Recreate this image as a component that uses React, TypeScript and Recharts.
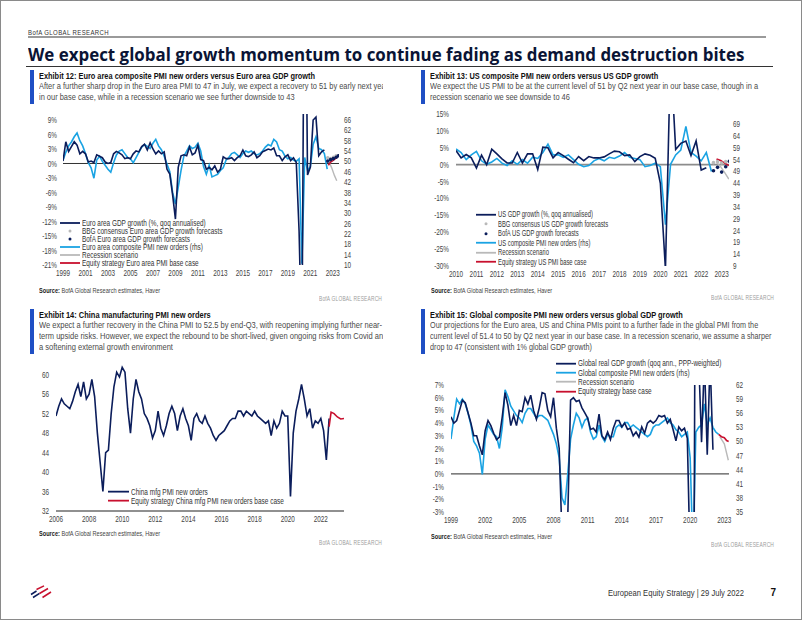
import React, { useLayoutEffect, useRef, useState } from "react";
import { ComposedChart, Line, XAxis, YAxis, ReferenceLine, Legend } from "recharts";

const NAVY = "#0b1d5b";
const SKY = "#1aa3e3";
const RED = "#c8102e";
const GREY = "#b9b9b9";
const INK = "#444444";
const FONT = "'Liberation Sans', Arial, sans-serif";
const TITLE_FONT = "'Open Sans', 'Liberation Sans', sans-serif";

// ---------- Exhibit 12: Euro area (quarterly, from 1999 Q1)
const euroGdp = [
  0.5, 4.5, 2.5, 3.5, 4.5, 3.8, 2.0, 2.5, 2.0, 0.3, 0.5, 0.2, 1.8, 1.5, 1.2, 0.3,
  0.0, 0.2, 2.0, 2.5, 2.2, 1.8, 1.0, 1.2, 1.0, 2.0, 2.6, 2.4, 3.5, 4.0, 2.8, 4.3,
  3.0, 2.0, 2.6, 2.0, 2.4, -1.2, -2.2, -6.5, -11.5, -0.8, 1.6, 1.8, 1.6, 3.4, 1.8, 2.2,
  3.8, 0.8, 0.6, -1.2, -0.8, -1.3, -0.5, -1.8, -1.2, 1.4, 1.0, 1.0, 1.2, 0.6, 1.2, 1.6,
  2.8, 1.6, 1.4, 1.8, 2.4, 1.2, 1.6, 2.4, 2.7, 3.0, 2.8, 3.2, 1.6, 1.6, 0.6, 1.4,
  1.8, 0.6, 1.2, 0.2, -14.0, -39.0, 60.0, -2.4, -0.8, 9.0, 9.6, 1.6, 2.4, 2.8,
];
const euroPmi = [
  50.5, 53.5, 56.0, 57.5, 59.5, 61.0, 58.0, 56.0, 53.0, 49.5, 47.5, 43.5, 50.5, 52.0, 50.0, 48.5,
  47.0, 45.8, 49.5, 52.5, 54.0, 54.5, 53.0, 51.5, 51.0, 49.5, 51.5, 53.5, 55.5, 56.5, 55.8, 55.0,
  57.0, 58.5, 56.0, 54.5, 52.0, 49.0, 46.0, 38.0, 33.5, 40.0, 46.5, 52.0, 54.0, 56.0, 55.0, 55.5,
  57.0, 54.0, 48.0, 45.0, 48.5, 44.0, 44.5, 45.0, 46.5, 47.5, 50.5, 51.5, 53.0, 53.5, 52.5, 51.5,
  53.0, 54.0, 53.5, 54.0, 53.0, 52.5, 53.0, 54.0, 55.5, 56.5, 56.0, 58.5, 57.5, 54.5, 54.0, 52.0,
  51.0, 51.5, 50.5, 50.0, 51.0, 10.5, 51.5, 46.5, 48.0, 56.5, 59.5, 55.0, 54.5, 53.0, 47.0,
];
const euroBofaFcst: [number, number][] = [[2022.55, 0.5], [2022.8, 0.8], [2023.05, 1.0], [2023.3, 1.3], [2023.5, 1.6]];
const euroBbgFcst: [number, number][] = [[2022.55, 1.2], [2022.8, 1.0], [2023.05, 1.3], [2023.3, 1.6]];
const euroPmiBase: [number, number][] = [[2022.6, 48.5], [2022.8, 49.7], [2023.0, 50.3], [2023.2, 51.0], [2023.45, 51.9]];
const euroPmiRecession: [number, number][] = [[2022.65, 50.0], [2022.9, 47.5], [2023.15, 44.5], [2023.35, 42.5]];
const euroYears = [1999, 2001, 2003, 2005, 2007, 2009, 2011, 2013, 2015, 2017, 2019, 2021, 2023];
const euroLeftTicks = [-21, -18, -15, -12, -9, -6, -3, 0, 3, 6, 9];
const euroRightTicks = [10, 14, 18, 22, 26, 30, 34, 38, 42, 46, 50, 54, 58, 62, 66];

// ---------- Exhibit 13: US (quarterly, from 2010 Q1)
const usGdp = [
  4.2, 2.0, 3.0, 2.0, -1.0, 2.8, 0.0, 4.6, 3.2, 1.7, 0.5, 0.5, 3.6, 0.5, 3.2, 3.2,
  -1.4, 5.2, 5.0, 2.0, 3.6, 2.7, 1.6, 0.6, 2.4, 1.2, 2.4, 2.0, 2.0, 2.3, 3.2, 4.0,
  3.8, 2.7, 2.9, 0.9, 2.4, 3.2, 2.8, 1.9, -5.5, -31.0, 33.0, 4.5, 6.3, 7.0, 2.7, 7.0,
  -1.6, -0.9,
];
const usPmi = [
  58.5, 57.0, 54.0, 56.0, 57.5, 53.5, 52.0, 53.0, 54.5, 52.5, 51.5, 53.5, 52.0, 54.0, 52.5, 55.0,
  54.5, 57.0, 60.5, 56.0, 56.0, 55.0, 56.0, 54.0, 52.0, 51.0, 51.5, 53.5, 54.5, 53.5, 55.0, 54.5,
  55.5, 57.0, 55.0, 54.5, 54.0, 51.0, 51.5, 52.5, 51.0, 26.5, 52.0, 56.0, 58.0, 68.0, 57.0, 55.5,
  53.5, 57.0, 49.0,
];
const usBofaFcst: [number, number][] = [[2022.6, -1.8], [2022.8, -0.8], [2023.0, -2.2], [2023.2, -0.6], [2023.38, 1.0]];
const usBbgFcst: [number, number][] = [[2022.6, 0.6], [2022.8, 0.9], [2023.0, 0.5], [2023.2, 0.9]];
const usPmiBase: [number, number][] = [[2022.75, 54.3], [2022.95, 53.6], [2023.15, 52.5], [2023.35, 51.5]];
const usPmiRecession: [number, number][] = [[2022.75, 52.8], [2022.95, 51.0], [2023.15, 48.5], [2023.35, 45.8]];
const usYears = [2010, 2011, 2012, 2013, 2014, 2015, 2016, 2017, 2018, 2019, 2020, 2021, 2022, 2023];
const usLeftTicks = [-30, -25, -20, -15, -10, -5, 0, 5, 10, 15];
const usRightTicks = [9, 14, 19, 24, 29, 34, 39, 44, 49, 54, 59, 64, 69];

// ---------- Exhibit 14: China (every two months, from Jan 2006)
const chinaPmi = [
  51.5, 53.5, 55.0, 54.0, 53.5, 53.0, 54.5, 56.5, 58.0, 55.5, 58.5, 55.0,
  56.0, 59.0, 55.5, 48.0, 42.0, 36.0, 44.0, 44.5, 52.0, 57.5, 60.5, 59.5,
  61.5, 60.5, 53.0, 48.0, 55.0, 59.0, 56.5, 55.0, 52.0, 51.0, 49.5, 47.0,
  48.5, 52.5, 49.0, 47.5, 49.5, 52.0, 53.5, 52.0, 48.5, 51.5, 53.0, 51.0,
  49.5, 46.5, 51.0, 52.0, 50.5, 50.0, 51.5, 50.0, 49.0, 47.5, 46.5, 47.5,
  48.0, 48.5, 49.5, 50.5, 51.0, 51.0, 52.5, 52.5, 51.5, 52.5, 52.0, 51.5,
  52.5, 51.5, 51.0, 50.5, 50.0, 50.5, 47.5, 50.5, 49.0, 50.0, 52.5, 51.5,
  51.5, 35.0, 48.0, 52.5, 55.0, 58.0, 55.0, 51.5, 53.0, 49.0, 50.5, 50.0,
  51.0, 48.5, 42.5, 51.0,
];
const chinaPmiBase: [number, number][] = [[2022.5, 49.3], [2022.62, 52.3], [2022.8, 52.0], [2023.0, 51.3], [2023.2, 50.9], [2023.4, 51.0]];
const chinaYears = [2006, 2008, 2010, 2012, 2014, 2016, 2018, 2020, 2022];
const chinaTicks = [32, 36, 40, 44, 48, 52, 56, 60];

// ---------- Exhibit 15: Global (quarterly, from 1999 Q1)
const globalGdp = [
  4.5, 4.0, 4.2, 5.0, 5.8, 5.6, 4.8, 4.0, 3.0, 3.0, 2.2, 1.5, 3.4, 4.2, 3.8, 3.2,
  2.7, 2.9, 4.5, 6.4, 5.4, 3.8, 4.6, 3.8, 5.0, 4.9, 6.0, 5.5, 6.2, 5.0, 4.3, 5.2,
  6.4, 6.3, 5.0, 4.5, 6.0, 3.6, 2.0, -5.0, -6.0, -3.5, 5.8, 6.0, 5.7, 5.8, 5.2, 4.8,
  4.4, 3.5, 3.6, 3.3, 4.7, 3.0, 2.7, 3.3, 2.7, 3.6, 4.2, 4.2, 3.7, 4.0, 3.5, 3.6,
  3.0, 3.3, 2.9, 3.7, 3.2, 4.0, 4.2, 4.0, 4.2, 4.6, 4.5, 4.6, 4.0, 4.3, 3.5, 2.6,
  3.7, 3.4, 3.6, 2.8, -7.0, -28.0, 30.0, 9.0, 2.5, 9.0, 1.5, 9.0, 1.9,
];
const globalPmi = [
  50.5, 55.0, 59.0, 58.0, 59.0, 58.0, 56.0, 53.5, 50.0, 49.0, 47.5, 43.0, 50.5, 53.5, 52.5, 51.5,
  51.0, 48.5, 53.0, 61.0, 59.5, 57.5, 56.5, 55.5, 55.0, 54.0, 56.0, 57.0, 57.0, 56.0, 55.0, 55.5,
  55.5, 55.0, 54.5, 53.0, 51.5, 49.5, 46.5, 38.0, 36.5, 43.0, 50.5, 53.5, 56.0, 55.0, 53.0, 54.5,
  55.0, 52.0, 50.5, 51.0, 53.5, 51.0, 50.0, 51.5, 51.0, 51.0, 53.0, 53.5, 53.0, 54.0, 54.0, 53.0,
  53.5, 53.0, 52.5, 52.0, 51.5, 51.0, 51.5, 53.0, 53.5, 53.5, 54.0, 54.5, 55.0, 54.0, 53.5, 52.5,
  52.0, 51.0, 51.5, 52.0, 46.5, 26.0, 52.0, 53.0, 53.5, 58.0, 53.5, 55.0, 53.0, 52.0, 51.5,
];
const globalPmiBase: [number, number][] = [[2022.5, 51.5], [2022.75, 51.0], [2023.0, 50.8], [2023.2, 50.2], [2023.38, 50.0]];
const globalPmiRecession: [number, number][] = [[2022.6, 51.0], [2023.0, 49.5], [2023.35, 46.0]];
const globalYears = [1999, 2002, 2005, 2008, 2011, 2014, 2017, 2020, 2023];
const globalLeftTicks = [-3, -2, -1, 0, 1, 2, 3, 4, 5, 6, 7];
const globalRightTicks = [35, 38, 41, 44, 47, 50, 53, 56, 59, 62];

const quarterly = (start: number, vals: number[]) => vals.map((v, i) => ({ x: start + i / 4, v }));
const bimonthly = (start: number, vals: number[]) => vals.map((v, i) => ({ x: start + i / 6, v }));
const pairs = (p: [number, number][]) => p.map(([x, v]) => ({ x, v }));
const pct = (v: number) => `${v}%`;

// measures one element and returns the horizontal squeeze needed to reach a target width
function useSqueeze(target: number) {
  const ref = useRef<HTMLSpanElement | null>(null);
  const [s, setS] = useState(1);
  useLayoutEffect(() => {
    const el = ref.current;
    if (el && el.offsetWidth > 0) setS(target / el.offsetWidth);
  }, [target]);
  return [ref, s] as const;
}

const squeezed = (s: number): React.CSSProperties => ({
  display: "inline-block",
  transform: `scaleX(${s})`,
  transformOrigin: "0 50%",
  whiteSpace: "nowrap",
});

function FitLines({
  lines,
  refIndex = 0,
  refWidth,
  lineH,
  style,
}: {
  lines: React.ReactNode[];
  refIndex?: number;
  refWidth: number;
  lineH: number;
  style?: React.CSSProperties;
}) {
  const [ref, s] = useSqueeze(refWidth);
  return (
    <div style={style}>
      {lines.map((l, i) => (
        <div key={i} style={{ height: lineH, lineHeight: `${lineH}px`, whiteSpace: "nowrap" }}>
          <span ref={i === refIndex ? ref : undefined} style={squeezed(s)}>
            {l}
          </span>
        </div>
      ))}
    </div>
  );
}

function CondTick(props: any) {
  const { x, y, payload, textAnchor, isX, fmt } = props;
  return (
    <g transform={`translate(${x},${y}) scale(0.74,1)`}>
      <text x={0} y={0} dy={isX ? "0.71em" : "0.355em"} textAnchor={textAnchor} fontSize={8.6} fill={INK} fontFamily={FONT}>
        {fmt ? fmt(payload.value) : payload.value}
      </text>
    </g>
  );
}

type LegendItem = { label: string; color: string; kind: "line" | "dot" };

function LegendList({ items, rowH, swatchW, firstW }: { items: LegendItem[]; rowH: number; swatchW: number; firstW: number }) {
  const [ref, s] = useSqueeze(firstW);
  return (
    <div style={{ fontFamily: FONT, fontSize: 8.6, color: "#333" }}>
      {items.map((it, i) => (
        <div key={it.label} style={{ display: "flex", alignItems: "center", height: rowH, whiteSpace: "nowrap" }}>
          <svg width={swatchW} height={rowH} style={{ marginRight: 1.5, flex: "none" }}>
            {it.kind === "line" ? (
              <line x1={0} x2={swatchW} y1={rowH / 2} y2={rowH / 2} stroke={it.color} strokeWidth={1.8} />
            ) : (
              <circle cx={swatchW / 2} cy={rowH / 2} r={1.5} fill={it.color} />
            )}
          </svg>
          <span ref={i === 0 ? ref : undefined} style={squeezed(s)}>
            {it.label}
          </span>
        </div>
      ))}
    </div>
  );
}

const euroLegend: LegendItem[] = [
  { label: "Euro area GDP growth (%, qoq annualised)", color: NAVY, kind: "line" },
  { label: "BBG consensus Euro area GDP growth forecasts", color: GREY, kind: "dot" },
  { label: "BofA Euro area GDP growth forecasts", color: NAVY, kind: "dot" },
  { label: "Euro area composite PMI new orders (rhs)", color: SKY, kind: "line" },
  { label: "Recession scenario", color: GREY, kind: "line" },
  { label: "Equity strategy Euro area PMI base case", color: RED, kind: "line" },
];
const usLegend: LegendItem[] = [
  { label: "US GDP growth (%, qoq annualised)", color: NAVY, kind: "line" },
  { label: "BBG consensus US GDP growth forecasts", color: GREY, kind: "dot" },
  { label: "BofA US GDP growth forecasts", color: NAVY, kind: "dot" },
  { label: "US composite PMI new orders (rhs)", color: SKY, kind: "line" },
  { label: "Recession scenario", color: GREY, kind: "line" },
  { label: "Equity strategy US PMI base case", color: RED, kind: "line" },
];
const chinaLegend: LegendItem[] = [
  { label: "China mfg PMI new orders", color: NAVY, kind: "line" },
  { label: "Equity strategy China mfg PMI new orders base case", color: RED, kind: "line" },
];
const globalLegend: LegendItem[] = [
  { label: "Global real GDP growth (qoq ann., PPP-weighted)", color: NAVY, kind: "line" },
  { label: "Global composite PMI new orders (rhs)", color: SKY, kind: "line" },
  { label: "Recession scenario", color: GREY, kind: "line" },
  { label: "Equity strategy base case", color: RED, kind: "line" },
];

function xAxis(domain: [number, number], ticks: number[], line = false) {
  return (
    <XAxis
      dataKey="x"
      type="number"
      domain={domain}
      ticks={ticks}
      interval={0}
      allowDataOverflow
      tickLine={false}
      axisLine={line ? { stroke: "#222", strokeWidth: 1.2 } : false}
      tickSize={0}
      tickMargin={5}
      height={20}
      tick={(p: any) => <CondTick {...p} isX />}
    />
  );
}

function yAxis(id: string, side: "left" | "right", domain: [number, number], ticks: number[], width: number, margin: number, fmt?: (v: number) => string) {
  return (
    <YAxis
      yAxisId={id}
      orientation={side}
      type="number"
      domain={domain}
      ticks={ticks}
      interval={0}
      allowDataOverflow
      tickLine={false}
      axisLine={false}
      tickSize={0}
      tickMargin={margin}
      width={width}
      tick={(p: any) => <CondTick {...p} fmt={fmt} />}
    />
  );
}

function series(id: string, data: { x: number; v: number }[], color: string, w = 1.6) {
  return <Line yAxisId={id} data={data} dataKey="v" type="linear" stroke={color} strokeWidth={w} dot={false} isAnimationActive={false} />;
}

function dots(id: string, data: { x: number; v: number }[], color: string) {
  return (
    <Line yAxisId={id} data={data} dataKey="v" stroke="none" dot={{ r: 1.8, fill: color, stroke: "none" }} isAnimationActive={false} />
  );
}

function legend(items: LegendItem[], left: number, top: number, rowH: number, swatchW: number, firstW: number) {
  return (
    <Legend
      layout="vertical"
      align="center"
      verticalAlign="middle"
      wrapperStyle={{ left, top, width: 280 }}
      content={() => <LegendList items={items} rowH={rowH} swatchW={swatchW} firstW={firstW} />}
    />
  );
}

function EuroChart() {
  return (
    <ComposedChart width={370} height={180} margin={{ top: 8, right: 0, bottom: 1, left: 0 }}>
      {xAxis([1999, 2023.55], euroYears)}
      {yAxis("l", "left", [-21, 10.24], euroLeftTicks, 42, 6, pct)}
      {yAxis("r", "right", [10, 68.3], euroRightTicks, 52, 5)}
      <ReferenceLine yAxisId="l" y={0} stroke="#333" strokeWidth={1} />
      {series("r", quarterly(1999, euroPmi), SKY)}
      {series("l", quarterly(1999, euroGdp), NAVY)}
      {series("r", pairs(euroPmiRecession), GREY, 1.4)}
      {series("r", pairs(euroPmiBase), RED, 1.6)}
      {dots("l", pairs(euroBbgFcst), GREY)}
      {dots("l", pairs(euroBofaFcst), NAVY)}
      {legend(euroLegend, 39, 113.3, 8.0, 20, 124)}
    </ComposedChart>
  );
}

function UsChart() {
  return (
    <ComposedChart width={385} height={180} margin={{ top: 8, right: 37, bottom: 0, left: 0 }}>
      {xAxis([2010, 2023.36], usYears)}
      {yAxis("l", "left", [-30, 15], usLeftTicks, 45, 7, pct)}
      {yAxis("r", "right", [9, 73.3], usRightTicks, 30, 4)}
      <ReferenceLine yAxisId="l" y={0} stroke="#8c8c8c" strokeWidth={1.6} />
      {series("r", quarterly(2010, usPmi), SKY)}
      {series("l", quarterly(2010, usGdp), NAVY)}
      {series("r", pairs(usPmiRecession), GREY, 1.4)}
      {series("r", pairs(usPmiBase), RED, 1.6)}
      {dots("l", pairs(usBbgFcst), GREY)}
      {dots("l", pairs(usBofaFcst), NAVY)}
      {legend(usLegend, 65, 103.6, 9.5, 20, 95)}
    </ComposedChart>
  );
}

function ChinaChart() {
  return (
    <ComposedChart width={345} height={180} margin={{ top: 9, right: 12, bottom: 0, left: 0 }}>
      {xAxis([2006, 2023.4], chinaYears, true)}
      {yAxis("l", "left", [32, 63], chinaTicks, 45, 7)}
      {series("l", bimonthly(2006, chinaPmi), NAVY)}
      {series("l", pairs(chinaPmiBase), RED, 1.6)}
      {legend(chinaLegend, 97, 136, 9.3, 21, 77)}
    </ComposedChart>
  );
}

function GlobalChart() {
  return (
    <ComposedChart width={385} height={176} margin={{ top: 29, right: 37, bottom: 0, left: 0 }}>
      {xAxis([1999, 2023.41], globalYears)}
      {yAxis("l", "left", [-3, 7], globalLeftTicks, 40, 7, pct)}
      {yAxis("r", "right", [35, 62], globalRightTicks, 30, 7)}
      <ReferenceLine yAxisId="l" y={0} stroke="#555" strokeWidth={1.2} />
      {series("r", quarterly(1999, globalPmi), SKY)}
      {series("l", quarterly(1999, globalGdp), NAVY)}
      {series("r", pairs(globalPmiRecession), GREY, 1.4)}
      {series("r", pairs(globalPmiBase), RED, 1.6)}
      {legend(globalLegend, 145, 2.6, 9.4, 20, 143)}
    </ComposedChart>
  );
}

const abs = (left: number, top: number, extra: React.CSSProperties = {}): React.CSSProperties => ({
  position: "absolute",
  left,
  top,
  ...extra,
});

function ExhibitHead(props: {
  left: number;
  top: number;
  clipRight: number;
  title: string;
  titleW: number;
  lines: string[];
  refIndex: number;
  refW: number;
}) {
  const { left, top, clipRight, title, titleW, lines, refIndex, refW } = props;
  const textLeft = left + 9;
  return (
    <>
      <div style={abs(left, top - 1, { width: 3.5, height: 12 + lines.length * 10.8, background: "#1f4fc4" })} />
      <FitLines
        lines={[title]}
        refWidth={titleW}
        lineH={10}
        style={abs(textLeft, top, { fontSize: 9.6, fontWeight: 700, color: "#111" })}
      />
      <FitLines
        lines={lines}
        refIndex={refIndex}
        refWidth={refW}
        lineH={10.8}
        style={abs(textLeft, top + 10, { width: clipRight - textLeft, overflow: "hidden", fontSize: 9.4, color: "#4a4a4a" })}
      />
    </>
  );
}

function SourceNote({ left, y, brandRight, brandY }: { left: number; y: number; brandRight: number; brandY: number }) {
  return (
    <>
      <FitLines
        lines={[
          <>
            <b style={{ color: "#222" }}>Source:</b> BofA Global Research estimates, Haver
          </>,
        ]}
        refWidth={121}
        lineH={10}
        style={abs(left, y - 5, { fontSize: 7.6, color: "#444" })}
      />
      <FitLines
        lines={["BofA GLOBAL RESEARCH"]}
        refWidth={63}
        lineH={10}
        style={abs(brandRight - 63, brandY - 5, { fontSize: 7.4, color: "#9c9c9c", letterSpacing: 0.3 })}
      />
    </>
  );
}

export default function App() {
  return (
    <div
      style={{
        position: "relative",
        width: 802,
        height: 620,
        border: "1px solid #8a8a8a",
        boxSizing: "border-box",
        background: "#fff",
        fontFamily: FONT,
        overflow: "hidden",
      }}
    >
      <style>{"body{margin:0}"}</style>
      <FitLines
        lines={["BofA GLOBAL RESEARCH"]}
        refWidth={81}
        lineH={10}
        style={abs(27, 26.5, { fontSize: 7.8, color: "#333", letterSpacing: 0.5 })}
      />
      <div style={abs(27, 35, { width: 738, height: 2, background: "#9a9a9a" })} />
      <FitLines
        lines={["We expect global growth momentum to continue fading as demand destruction bites"]}
        refWidth={716}
        lineH={20}
        style={abs(27, 44, { fontFamily: TITLE_FONT, fontSize: 17, fontWeight: 700, color: "#0a1435" })}
      />
      <div style={abs(25, 65, { width: 747, height: 1, background: "#333" })} />

      <ExhibitHead
        left={29}
        top={70}
        clipRight={382}
        title="Exhibit 12: Euro area  composite PMI new orders versus Euro area GDP growth"
        titleW={276}
        lines={[
          "After a further sharp drop in the Euro area PMI to 47 in July, we expect a recovery to 51 by early next year",
          "in our base case, while in a recession scenario we see further downside to 43",
        ]}
        refIndex={1}
        refW={256}
      />
      <ExhibitHead
        left={420}
        top={70}
        clipRight={775}
        title="Exhibit 13: US composite PMI new orders versus US GDP growth"
        titleW={228}
        lines={[
          "We expect the US PMI to be at the current level of 51 by Q2 next year in our base case, though in a",
          "recession scenario we see downside to 46",
        ]}
        refIndex={0}
        refW={328}
      />
      <ExhibitHead
        left={29}
        top={309.3}
        clipRight={382}
        title="Exhibit 14: China manufacturing PMI new orders"
        titleW={172}
        lines={[
          "We expect a further recovery in the China PMI to 52.5 by end-Q3, with reopening implying further near-",
          "term upside risks. However, we expect the rebound to be short-lived, given ongoing risks from Covid and",
          "a softening external growth environment",
        ]}
        refIndex={0}
        refW={343}
      />
      <ExhibitHead
        left={420}
        top={309.3}
        clipRight={772}
        title="Exhibit 15: Global composite PMI new orders versus global GDP growth"
        titleW={253}
        lines={[
          "Our projections for the Euro area, US and China PMIs point to a further fade in the global PMI from the",
          "current level of 51.4 to 50 by Q2 next year in our base case. In a recession scenario, we assume a sharper",
          "drop to 47 (consistent with 1% global GDP growth)",
        ]}
        refIndex={0}
        refW={328}
      />

      <div style={abs(20, 105)}>
        <EuroChart />
      </div>
      <div style={abs(410, 105)}>
        <UsChart />
      </div>
      <div style={abs(10, 350)}>
        <ChinaChart />
      </div>
      <div style={abs(410, 355)}>
        <GlobalChart />
      </div>

      <SourceNote left={38} y={290} brandRight={381} brandY={298.3} />
      <SourceNote left={430} y={290} brandRight={773} brandY={297.3} />
      <SourceNote left={38} y={533.3} brandRight={381} brandY={542.3} />
      <SourceNote left={430} y={535.7} brandRight={773} brandY={544.3} />

      <svg style={abs(28, 584)} width={26} height={14}>
        <path d="M2 9.5 L7.5 6" stroke={NAVY} strokeWidth={1.5} />
        <path d="M4 12.5 L10.5 8.3" stroke={NAVY} strokeWidth={1.5} />
        <path d="M7.5 4.5 L15 0.8" stroke={RED} strokeWidth={1.5} />
        <path d="M10.5 8.5 L19 3.5" stroke={RED} strokeWidth={1.5} />
        <path d="M13.5 12.5 L22 7" stroke={RED} strokeWidth={1.5} />
      </svg>
      <FitLines
        lines={["European Equity Strategy | 29 July 2022"]}
        refWidth={136}
        lineH={12}
        style={abs(606.7, 585.7, { fontSize: 9, color: "#333" })}
      />
      <div style={abs(769.5, 585, { fontSize: 10, color: "#111", fontWeight: 700, lineHeight: "13px" })}>7</div>
    </div>
  );
}
